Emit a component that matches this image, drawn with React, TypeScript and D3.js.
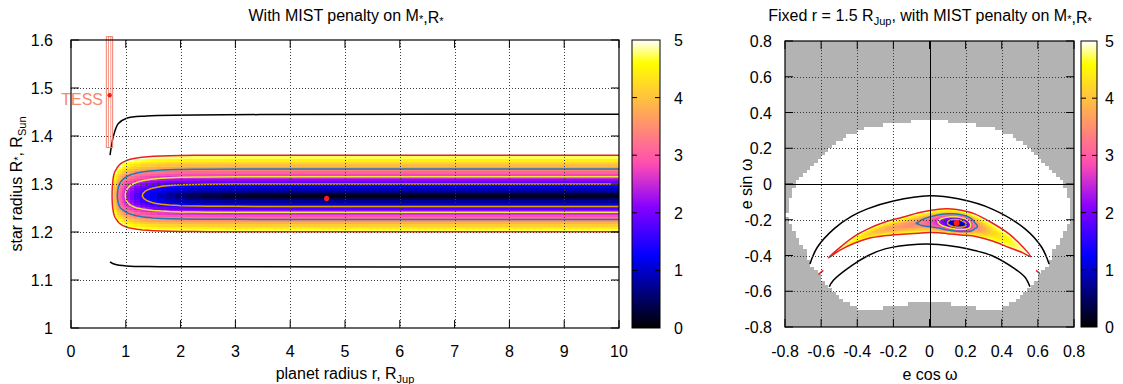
import React from "react";
import * as d3 from "d3";

const FONT = "'Liberation Sans', Arial, Helvetica, sans-serif";

// ================= LEFT PANEL DATA =================
const leftXTicks = [0, 1, 2, 3, 4, 5, 6, 7, 8, 9, 10];
const leftYTicks = [1.0, 1.1, 1.2, 1.3, 1.4, 1.5, 1.6];
const colorTicks = [0, 1, 2, 3, 4, 5];
const contourLevels = [5, 3.44, 2.48, 1.52];
const contourColors = ["#e8221c", "#1f78b4", "#f0e442", "#e69f00"];

// star radius rows (R_Sun) and the sqrt(chi2) profile across them (read at large r)
const starRadiusGrid = [1.190, 1.195, 1.200, 1.205, 1.210, 1.215, 1.220, 1.225, 1.230, 1.235, 1.240, 1.245, 1.250, 1.255, 1.260, 1.265, 1.270, 1.275, 1.280, 1.285, 1.290, 1.295, 1.300, 1.305, 1.310, 1.315, 1.320, 1.325, 1.330, 1.335, 1.340, 1.345, 1.350, 1.355, 1.360, 1.365, 1.370];
const starRadiusSigma = [5.6, 5.3, 5.04, 4.72, 4.42, 4.12, 3.82, 3.52, 3.2, 2.88, 2.55, 2.2, 1.75, 1.4, 1.05, 0.72, 0.4, 0.08, 0.25, 0.57, 0.89, 1.2, 1.52, 1.84, 2.16, 2.48, 2.78, 3.08, 3.38, 3.65, 3.92, 4.19, 4.46, 4.73, 5.0, 5.27, 5.55];
// planet radius columns (R_Jup) and the extra sqrt(chi2) along r (read at the valley)
const planetRadiusGrid = [0.55, 0.60, 0.65, 0.70, 0.725, 0.75, 0.775, 0.80, 0.825, 0.85, 0.875, 0.90, 0.95, 1.00, 1.05, 1.10, 1.20, 1.30, 1.40, 1.50, 1.65, 1.80, 2.0, 2.25, 2.5, 3.0, 3.5, 4.0, 4.65, 5.5, 6.5, 7.5, 8.5, 9.5, 10.0];
const planetRadiusSigma = [12, 10, 8.5, 7, 6, 5.0, 4.3, 3.9, 3.65, 3.4, 3.18, 2.98, 2.68, 2.43, 2.22, 2.04, 1.76, 1.52, 1.32, 1.14, 0.92, 0.74, 0.56, 0.41, 0.31, 0.18, 0.1, 0.05, 0.0, 0.03, 0.06, 0.08, 0.1, 0.12, 0.13];

const leftBestFit = [4.666, 1.270];
const upperBlackLeft = [[0.712, 1.360], [0.745, 1.384], [0.772, 1.399], [0.864, 1.426], [1.016, 1.437], [1.38, 1.4417], [3.45, 1.4446], [10, 1.4452]];
const lowerBlackLeft = [[0.712, 1.138], [0.80, 1.1327], [1.016, 1.1292], [1.62, 1.1278], [10, 1.1272]];
const tessPoint = [0.705, 1.485];
const tessBoxOuter = [0.645, 0.76, 1.376, 1.607];
const tessBoxInner = [0.682, 0.727, 1.376, 1.607];

// ================= RIGHT PANEL DATA =================
const rightTicks = [-0.8, -0.6, -0.4, -0.2, 0, 0.2, 0.4, 0.6, 0.8];
const allowedRegion = [[0, 0.356], [0.2, 0.345], [0.366, 0.308], [0.45, 0.27], [0.55, 0.205], [0.645, 0.114], [0.69, 0.054], [0.74, 0], [0.78, -0.1], [0.79, -0.17], [0.772, -0.205], [0.745, -0.278], [0.69, -0.37], [0.645, -0.466], [0.57, -0.558], [0.48, -0.653], [0.36, -0.71], [0.3, -0.70], [0.2, -0.68], [0, -0.655], [-0.2, -0.68], [-0.3, -0.70], [-0.36, -0.71], [-0.48, -0.653], [-0.57, -0.558], [-0.645, -0.466], [-0.69, -0.37], [-0.745, -0.278], [-0.772, -0.205], [-0.79, -0.17], [-0.78, -0.1], [-0.74, 0], [-0.69, 0.054], [-0.645, 0.114], [-0.55, 0.205], [-0.45, 0.27], [-0.366, 0.308], [-0.2, 0.345]];
const bananaEcos = [-0.56, -0.49, -0.41, -0.34, -0.25, -0.15, -0.06, 0.0, 0.05, 0.10, 0.15, 0.20, 0.25, 0.34, 0.44, 0.51, 0.56];
const bananaUpper = [-0.413, -0.350, -0.289, -0.251, -0.214, -0.186, -0.161, -0.149, -0.141, -0.139, -0.143, -0.152, -0.167, -0.214, -0.279, -0.345, -0.406];
const bananaLower = [-0.413, -0.367, -0.329, -0.305, -0.290, -0.281, -0.275, -0.272, -0.273, -0.278, -0.283, -0.287, -0.292, -0.316, -0.355, -0.382, -0.406];
const bananaValley = [-0.413, -0.358, -0.309, -0.277, -0.252, -0.234, -0.218, -0.212, -0.212, -0.218, -0.223, -0.227, -0.233, -0.263, -0.315, -0.362, -0.406];
const bananaSigma = [5, 4.85, 4.5, 4.15, 3.8, 3.55, 3.42, 2.95, 2.45, 1.5, 0.05, 1.4, 3.3, 4.15, 4.55, 4.85, 5];
const rightBestFit = [0.15, -0.218];
const upperArcRight = [[-0.662, -0.447], [-0.621, -0.354], [-0.529, -0.251], [-0.43, -0.18], [-0.344, -0.139], [-0.2, -0.095], [0, -0.066], [0.159, -0.083], [0.344, -0.139], [0.529, -0.251], [0.621, -0.354], [0.662, -0.447]];
const lowerArcRight = [[-0.555, -0.575], [-0.533, -0.54], [-0.431, -0.457], [-0.339, -0.40], [-0.246, -0.363], [-0.062, -0.337], [0.05, -0.338], [0.159, -0.352], [0.25, -0.372], [0.344, -0.40], [0.473, -0.475], [0.529, -0.522], [0.556, -0.575]];
const redDashesRight = [[[-0.615, -0.506], [-0.588, -0.483]], [[0.59, -0.483], [0.612, -0.502]]];

// gnuplot rgbformulae 30,31,32
function gnuplotRGB(t: number): string {
  const c = (u: number) => Math.max(0, Math.min(1, u));
  const r = c(t / 0.32 - 0.78125);
  const g = c(2 * t - 0.84);
  let b: number;
  if (t < 0.25) b = 4 * t;
  else if (t < 0.42) b = 1;
  else if (t < 0.92) b = -2 * t + 1.84;
  else b = t / 0.08 - 11.5;
  b = c(b);
  return d3.rgb(Math.round(r * 255), Math.round(g * 255), Math.round(b * 255)).formatHex();
}

const color = d3.scaleSequential(gnuplotRGB).domain([0, 5]).clamp(true);

function contourPaths(values: number[], nx: number, ny: number, levels: number[], mapPt: (x: number, y: number) => [number, number]) {
  const neg = values.map((v) => -v);
  const gen = d3.contours().size([nx, ny]).thresholds(levels.map((l) => -l));
  const res = gen(neg);
  return levels.map((l) => {
    const mp = res.find((m: any) => Math.abs(m.value + l) < 1e-9);
    if (!mp) return "";
    return mp.coordinates
      .map((poly: any) => poly.map((ring: any) => "M" + ring.map((p: number[]) => mapPt(p[0] - 0.5, p[1] - 0.5).join(",")).join("L") + "Z").join(""))
      .join("");
  });
}

export default function App() {
  // ---------- LEFT ----------
  const L = { x0: 71, x1: 619, y0: 40, y1: 328 };
  const lx = d3.scaleLinear().domain([0, 10]).range([L.x0, L.x1]);
  const ly = d3.scaleLinear().domain([1, 1.6]).range([L.y1, L.y0]);
  const nC = planetRadiusGrid.length, nR = starRadiusGrid.length;
  const rIdx = d3.scaleLinear().domain(d3.range(nC)).range(planetRadiusGrid);
  const RIdx = d3.scaleLinear().domain(d3.range(nR)).range(starRadiusGrid);
  const leftValues: number[] = [];
  for (let i = 0; i < nR; i++) for (let j = 0; j < nC; j++) leftValues.push(Math.hypot(starRadiusSigma[i], planetRadiusSigma[j]));
  const leftCells: any[] = [];
  const dR = 0.0025;
  for (let i = 0; i < nR; i++) {
    for (let j = 0; j < nC; j++) {
      const v = leftValues[i * nC + j];
      if (v >= 5) continue;
      const lo = j === 0 ? planetRadiusGrid[0] : (planetRadiusGrid[j - 1] + planetRadiusGrid[j]) / 2;
      const hi = j === nC - 1 ? planetRadiusGrid[nC - 1] : (planetRadiusGrid[j] + planetRadiusGrid[j + 1]) / 2;
      const xA = lx(lo), xB = lx(hi);
      const yA = ly(starRadiusGrid[i] + dR), yB = ly(starRadiusGrid[i] - dR);
      leftCells.push(<rect key={`l${i}-${j}`} x={xA} y={yA} width={xB - xA + 0.6} height={yB - yA + 0.6} fill={color(v)} />);
    }
  }
  const leftContours = contourPaths(leftValues, nC, nR, contourLevels, (ix, iy) => [lx(rIdx(ix)), ly(RIdx(iy))]);
  const lineL = d3.line<number[]>().x((d) => lx(d[0])).y((d) => ly(d[1])).curve(d3.curveCatmullRom);

  // ---------- RIGHT ----------
  const Rp = { x0: 785, x1: 1074, y0: 41, y1: 327 };
  const rx = d3.scaleLinear().domain([-0.8, 0.8]).range([Rp.x0, Rp.x1]);
  const ry = d3.scaleLinear().domain([-0.8, 0.8]).range([Rp.y1, Rp.y0]);
  const upS = d3.scaleLinear().domain(bananaEcos).range(bananaUpper);
  const loS = d3.scaleLinear().domain(bananaEcos).range(bananaLower);
  const vaS = d3.scaleLinear().domain(bananaEcos).range(bananaValley);
  const sgS = d3.scaleLinear().domain(bananaEcos).range(bananaSigma);
  const tMin = bananaEcos[0], tMax = bananaEcos[bananaEcos.length - 1];
  const bananaValue = (x: number, y: number) => {
    if (x <= tMin || x >= tMax) return 9;
    const u = upS(x), l = loS(x), m = vaS(x), a = sgS(x);
    if (y > u || y < l) return 9;
    const s = y >= m ? (y - m) / Math.max(1e-6, u - m) : (m - y) / Math.max(1e-6, m - l);
    return Math.sqrt(a * a + (25 - a * a) * s * s);
  };
  const step = 0.004;
  const gx0 = -0.6, gy0 = -0.46;
  const nx = 301, ny = 100;
  const rightValues: number[] = [];
  const rightCells: any[] = [];
  const pw = rx(step) - rx(0), ph = ry(0) - ry(step);
  for (let j = 0; j < ny; j++) {
    const y = gy0 + j * step;
    for (let i = 0; i < nx; i++) {
      const x = gx0 + i * step;
      const v = bananaValue(x, y);
      rightValues.push(v);
      if (v < 5) {
        rightCells.push(<rect key={`r${i}-${j}`} x={rx(x) - pw / 2} y={ry(y) - ph / 2} width={pw + 0.4} height={ph + 0.4} fill={color(v)} />);
      }
    }
  }
  const rightContours = contourPaths(rightValues, nx, ny, [3.44, 2.48, 1.52], (ix, iy) => [rx(gx0 + ix * step), ry(gy0 + iy * step)]);
  const outlinePts: number[][] = bananaEcos.map((t, i) => [t, bananaUpper[i]]);
  for (let i = bananaEcos.length - 2; i >= 1; i--) outlinePts.push([bananaEcos[i], bananaLower[i]]);
  const outlinePath = d3.line<number[]>().x((d) => rx(d[0])).y((d) => ry(d[1])).curve(d3.curveCatmullRomClosed)(outlinePts) || "";
  const lineR = d3.line<number[]>().x((d) => rx(d[0])).y((d) => ry(d[1])).curve(d3.curveCatmullRom);

  // allowed (white) region drawn as pixelated runs like gnuplot cells
  const cs = 0.02;
  const whiteRuns: any[] = [];
  const ncell = Math.round(1.6 / cs);
  for (let j = 0; j < ncell; j++) {
    const yc = -0.8 + (j + 0.5) * cs;
    let start: number | null = null;
    for (let i = 0; i <= ncell; i++) {
      const xc = -0.8 + (i + 0.5) * cs;
      const inside = i < ncell && d3.polygonContains(allowedRegion as any, [xc, yc]);
      if (inside && start === null) start = xc - cs / 2;
      if (!inside && start !== null) {
        const xe = xc - cs / 2;
        whiteRuns.push(<rect key={`w${j}-${i}`} x={rx(start)} y={ry(yc + cs / 2)} width={rx(xe) - rx(start)} height={ry(yc - cs / 2) - ry(yc + cs / 2) + 0.5} fill="#ffffff" />);
        start = null;
      }
    }
  }

  const gridStroke = "#3a3a3a";
  const dash = "1,2";
  const tickLen = 8;
  const fmtR = (v: number) => (Math.abs(v) < 1e-9 ? "0" : v.toFixed(1));
  const fmtL = (v: number) => (Math.abs(v - 1) < 1e-9 ? "1" : v.toFixed(1));
  const TICK_FS = 16;
  const LAB_FS = 16;

  const gradStops = d3.range(0, 51).map((k) => <stop key={k} offset={`${(k / 50) * 100}%`} stopColor={color(5 * (k / 50))} />);

  const star = (dy: number) => (
    <>
      <tspan fontSize={11} dy={dy}>*</tspan>
      <tspan dy={-dy}>{""}</tspan>
    </>
  );

  const CB = (x0: number, x1: number, y0: number, y1: number, lab: number) => {
    const cy = d3.scaleLinear().domain([0, 5]).range([y1, y0]);
    return (
      <g>
        <rect x={x0} y={y0} width={x1 - x0} height={y1 - y0} fill="url(#cbgrad)" stroke="#000" strokeWidth={1} />
        {colorTicks.slice(1, 5).map((t) => (
          <g key={t}>
            <line x1={x0} x2={x0 + 5} y1={cy(t)} y2={cy(t)} stroke="#000" />
            <line x1={x1 - 5} x2={x1} y1={cy(t)} y2={cy(t)} stroke="#000" />
          </g>
        ))}
        {colorTicks.map((t) => (
          <text key={t} x={lab} y={cy(t) + 6} fontSize={TICK_FS} textAnchor="start">{t}</text>
        ))}
      </g>
    );
  };

  return (
    <div style={{ position: "absolute", left: 0, top: 0 }}>
      <svg width={1123} height={384} style={{ display: "block", fontFamily: FONT }}>
        <defs>
          <linearGradient id="cbgrad" x1="0" y1="1" x2="0" y2="0">{gradStops}</linearGradient>
          <clipPath id="clipL"><rect x={L.x0} y={L.y0} width={L.x1 - L.x0} height={L.y1 - L.y0} /></clipPath>
          <clipPath id="clipR"><rect x={Rp.x0} y={Rp.y0} width={Rp.x1 - Rp.x0} height={Rp.y1 - Rp.y0} /></clipPath>
        </defs>
        <rect x={0} y={0} width={1123} height={384} fill="#fff" />

        {/* ===== LEFT PANEL ===== */}
        <g clipPath="url(#clipL)">
          <g shapeRendering="crispEdges">{leftCells}</g>
          {leftContours.map((d, k) => (
            <path key={k} d={d} fill="none" stroke={contourColors[k]} strokeWidth={1.5} strokeLinejoin="round" />
          ))}
          <path d={lineL(upperBlackLeft) || ""} fill="none" stroke="#000" strokeWidth={1.5} />
          <path d={lineL(lowerBlackLeft) || ""} fill="none" stroke="#000" strokeWidth={1.5} />
          {leftXTicks.slice(1, -1).map((t) => (
            <line key={t} x1={Math.round(lx(t)) + 0.5} x2={Math.round(lx(t)) + 0.5} y1={L.y0} y2={L.y1} stroke={gridStroke} strokeDasharray={dash} />
          ))}
          {leftYTicks.slice(1, -1).map((t) => (
            <line key={t} y1={Math.round(ly(t)) + 0.5} y2={Math.round(ly(t)) + 0.5} x1={L.x0} x2={L.x1} stroke={gridStroke} strokeDasharray={dash} />
          ))}
          <circle cx={lx(leftBestFit[0])} cy={ly(leftBestFit[1])} r={2.6} fill="#ff1a1a" />
        </g>
        {/* TESS box */}
        <rect x={lx(tessBoxOuter[0])} y={ly(tessBoxOuter[3])} width={lx(tessBoxOuter[1]) - lx(tessBoxOuter[0])} height={ly(tessBoxOuter[2]) - ly(tessBoxOuter[3])} fill="none" stroke="#f0806e" strokeWidth={1} />
        <rect x={lx(tessBoxInner[0])} y={ly(tessBoxInner[3])} width={lx(tessBoxInner[1]) - lx(tessBoxInner[0])} height={ly(tessBoxInner[2]) - ly(tessBoxInner[3])} fill="none" stroke="#f0806e" strokeWidth={0.8} />
        <circle cx={lx(tessPoint[0])} cy={ly(tessPoint[1])} r={2.2} fill="#e8221c" />
        <text x={103} y={105} textAnchor="end" fontSize={16} fill="#f8866c">TESS</text>
        {/* axes */}
        <rect x={L.x0} y={L.y0} width={L.x1 - L.x0} height={L.y1 - L.y0} fill="none" stroke="#000" strokeWidth={1.2} />
        {leftXTicks.map((t) => (
          <g key={t}>
            <line x1={lx(t)} x2={lx(t)} y1={L.y1} y2={L.y1 - tickLen} stroke="#000" />
            <line x1={lx(t)} x2={lx(t)} y1={L.y0} y2={L.y0 + tickLen} stroke="#000" />
            <text x={lx(t)} y={357} fontSize={TICK_FS} textAnchor="middle">{t}</text>
          </g>
        ))}
        {leftYTicks.map((t) => (
          <g key={t}>
            <line x1={L.x0} x2={L.x0 + tickLen} y1={ly(t)} y2={ly(t)} stroke="#000" />
            <line x1={L.x1} x2={L.x1 - tickLen} y1={ly(t)} y2={ly(t)} stroke="#000" />
            <text x={53} y={ly(t) + 6} fontSize={TICK_FS} textAnchor="end">{fmtL(t)}</text>
          </g>
        ))}
        <text x={346} y={21} fontSize={16} textAnchor="middle">
          With MIST penalty on M{star(2)},R{star(2)}
        </text>
        <text x={345} y={379} fontSize={LAB_FS} textAnchor="middle">
          planet radius r, R<tspan fontSize={11} dy={4}>Jup</tspan>
        </text>
        <text transform="translate(22,184) rotate(-90)" fontSize={LAB_FS} textAnchor="middle">
          star radius R{star(0)}, R<tspan fontSize={11} dy={4}>Sun</tspan>
        </text>
        {CB(632, 660, L.y0, L.y1, 674)}

        {/* ===== RIGHT PANEL ===== */}
        <g clipPath="url(#clipR)">
          <rect x={Rp.x0} y={Rp.y0} width={Rp.x1 - Rp.x0} height={Rp.y1 - Rp.y0} fill="#b3b3b3" />
          <g shapeRendering="crispEdges">{whiteRuns}</g>
          <g shapeRendering="crispEdges">{rightCells}</g>
          <path d={outlinePath} fill="none" stroke={contourColors[0]} strokeWidth={1.5} strokeLinejoin="round" />
          {rightContours.map((d, k) => (
            <path key={k} d={d} fill="none" stroke={contourColors[k + 1]} strokeWidth={1.5} strokeLinejoin="round" />
          ))}
          {redDashesRight.map((seg, k) => (
            <path key={k} d={lineR(seg) || ""} stroke={contourColors[0]} strokeWidth={1.5} fill="none" />
          ))}
          <path d={lineR(upperArcRight) || ""} fill="none" stroke="#000" strokeWidth={1.5} />
          <path d={lineR(lowerArcRight) || ""} fill="none" stroke="#000" strokeWidth={1.5} />
          {rightTicks.slice(1, -1).map((t) => (
            <g key={t}>
              <line x1={Math.round(rx(t)) + 0.5} x2={Math.round(rx(t)) + 0.5} y1={Rp.y0} y2={Rp.y1} stroke={t === 0 ? "#000" : gridStroke} strokeDasharray={t === 0 ? undefined : dash} />
              <line y1={Math.round(ry(t)) + 0.5} y2={Math.round(ry(t)) + 0.5} x1={Rp.x0} x2={Rp.x1} stroke={t === 0 ? "#000" : gridStroke} strokeDasharray={t === 0 ? undefined : dash} />
            </g>
          ))}
          <circle cx={rx(rightBestFit[0])} cy={ry(rightBestFit[1])} r={3} fill="#ff1a1a" />
        </g>
        <rect x={Rp.x0} y={Rp.y0} width={Rp.x1 - Rp.x0} height={Rp.y1 - Rp.y0} fill="none" stroke="#000" strokeWidth={1.2} />
        {rightTicks.map((t) => (
          <g key={t}>
            <line x1={rx(t)} x2={rx(t)} y1={Rp.y1} y2={Rp.y1 - tickLen} stroke="#000" />
            <line x1={rx(t)} x2={rx(t)} y1={Rp.y0} y2={Rp.y0 + tickLen} stroke="#000" />
            <line x1={Rp.x0} x2={Rp.x0 + tickLen} y1={ry(t)} y2={ry(t)} stroke="#000" />
            <line x1={Rp.x1} x2={Rp.x1 - tickLen} y1={ry(t)} y2={ry(t)} stroke="#000" />
            <text x={rx(t)} y={357} fontSize={TICK_FS} textAnchor="middle">{fmtR(t)}</text>
            <text x={772} y={ry(t) + 6} fontSize={TICK_FS} textAnchor="end">{fmtR(t)}</text>
          </g>
        ))}
        <text x={930} y={21} fontSize={16} textAnchor="middle">
          Fixed r = 1.5 R<tspan fontSize={11} dy={4}>Jup</tspan><tspan dy={-4}>, with MIST penalty on M</tspan>{star(2)},R{star(2)}
        </text>
        <text x={930} y={380} fontSize={LAB_FS} textAnchor="middle">e cos ω</text>
        <text transform="translate(752,184) rotate(-90)" fontSize={LAB_FS} textAnchor="middle">e sin ω</text>
        {CB(1081, 1097, Rp.y0, Rp.y1, 1105)}
      </svg>
    </div>
  );
}
